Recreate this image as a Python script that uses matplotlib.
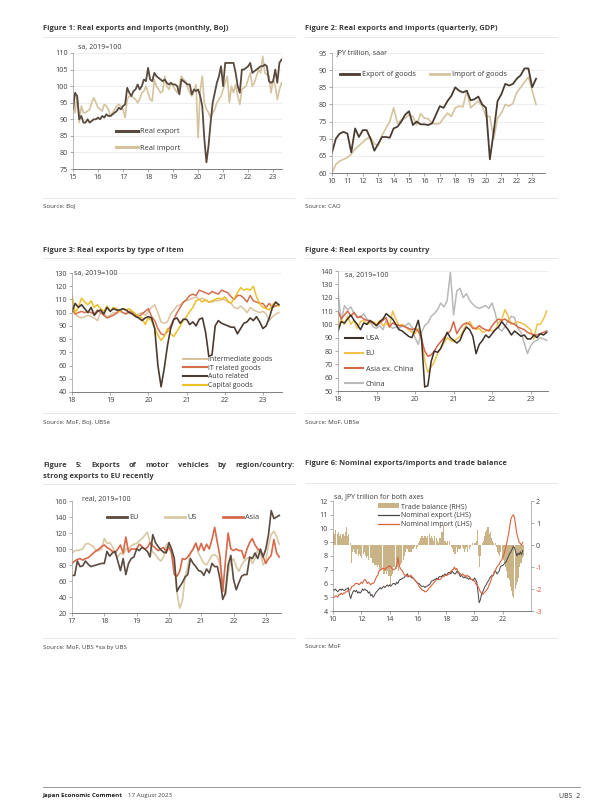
import numpy as np
import matplotlib
matplotlib.use("Agg")
import matplotlib.pyplot as plt
from matplotlib.lines import Line2D
from matplotlib.patches import Patch

plt.rcParams['font.family'] = ['Open Sans', 'DejaVu Sans']
plt.rcParams['axes.unicode_minus'] = False

# ---------------- data ----------------
# Figure 1: monthly, Jan 2015 - May 2023
f1_xticklabels = ['15', '16', '17', '18', '19', '20', '21', '22', '23']
f1_export = [93, 98, 97, 90, 91, 89, 89, 90, 89, 89.5, 90, 90,
             90.5, 90, 91, 90.5, 91.5, 91, 91, 91.5, 92, 92.5, 93.5, 93,
             94, 94.5, 99.5, 98, 97, 98.5, 99, 100.5, 99, 100, 102, 101.5,
             105.5, 102, 101.5, 104, 103, 102.5, 102, 101.5, 102, 101, 100.5, 101,
             100.5, 100.5, 100, 97.5, 102, 101.5, 101, 100.5, 100.5, 97.5, 99, 98.5,
             99, 97, 94, 84, 77, 82, 89, 95, 98, 101, 103, 106,
             100, 107, 107, 107, 107, 107, 104, 100, 98, 105, 105, 105.5,
             106, 107, 104, 104.5, 105, 105.5, 106, 106, 106.5, 106, 101.5, 101,
             101.5, 105, 101, 107, 108]
f1_import = [97, 92, 97, 89, 94, 92, 92, 92.5, 93, 95, 96.5, 95,
             93.5, 93, 92.5, 94.5, 94, 93, 91, 92, 93, 94, 94.5, 94,
             93, 90.5, 96, 97, 97, 96.5, 96, 95, 96, 98, 98.5, 100,
             98, 96, 95.5, 102, 100, 99, 98, 98.5, 103, 100, 99, 101,
             100, 99, 98, 100, 103, 102, 101.5, 99.5, 98, 97, 98.5, 100.5,
             84.5, 98.5, 103, 95, 93, 92, 90.5, 92, 93, 95, 96, 97,
             99, 101, 103, 95, 100, 98, 100.5, 97, 94.5, 99, 99.5, 100,
             102, 104, 100, 101, 103, 105, 104, 109, 104, 103.5, 103, 98,
             102, 100, 96, 99, 101]

# Figure 2: quarterly, 2010Q1 - 2023Q2
f2_xticklabels = ['10', '11', '12', '13', '14', '15', '16', '17', '18', '19', '20', '21', '22', '23']
f2_export = [66, 70, 71.5, 72, 71.5, 66, 73, 70.5, 72.5, 72.5, 70, 66.5,
             68.5, 70.5, 70.5, 70.3, 73, 73.5, 75, 77, 78, 74, 75, 74.2,
             74.2, 74, 74.5, 77, 79.5, 79, 81, 82.5, 85, 84, 83.5, 84,
             81.2, 81.5, 82.3, 80, 79, 64, 72, 81, 83, 86, 85.5, 86,
             87.5, 88.5, 90.5, 90.5, 85, 87.5]
f2_import = [60, 62.5, 63.5, 64, 64.5, 65.5, 67, 68, 69, 70, 70.5, 68.5,
             68, 71, 73, 75, 79, 74.5, 75.5, 76, 77, 76.5, 74, 77.3,
             76, 75.8, 74.5, 74.3, 74.5, 76, 77.5, 76.5, 79, 79.5, 79.3, 84,
             79, 80, 81, 79.5, 76.5, 76.5, 70, 76, 77.5, 80, 79.5, 80.3,
             83.5, 85, 86.5, 88, 84, 80]

# Figure 3: monthly, Jan 2018 - Jun 2023
f3_xticklabels = ['18', '19', '20', '21', '22', '23']
f3_intermediate = [103, 99, 97, 96, 97, 98, 97, 96, 94, 100, 99, 97,
                   98, 100, 99, 101, 100, 99, 101, 100, 98, 99, 100, 98,
                   101, 104, 106, 100, 93, 92, 93, 99, 102, 105, 106, 108,
                   109, 110, 111, 112, 110, 111, 109, 108, 108, 109, 109, 110,
                   110, 108, 107, 104, 103, 105, 103, 100, 104, 102, 101, 100,
                   101, 99, 94, 97, 99, 100]
f3_it = [102, 99, 100, 101, 100, 101, 100, 99, 102, 100, 98, 96,
         97, 98, 100, 102, 100, 99, 101, 100, 98, 97, 99, 101,
         103, 97, 94, 88, 84, 83, 86, 90, 95, 100, 104, 108,
         110, 113, 114, 113, 117, 116, 115, 114, 116, 115, 114, 117,
         116, 115, 112, 110, 113, 113, 111, 108, 113, 109, 108, 107,
         107, 104, 107, 104, 105, 106]
f3_auto = [101, 107, 104, 106, 103, 100, 104, 98, 101, 102, 99, 104,
           101, 103, 102, 102, 103, 102, 100, 99, 97, 96, 94, 96,
           97, 96, 88, 60, 44, 58, 75, 88, 95, 96, 92, 95,
           95, 91, 93, 90, 95, 96, 85, 67, 68, 90, 94, 92,
           91, 90, 89, 89, 84, 88, 92, 93, 96, 94, 97, 93,
           88, 90, 96, 104, 108, 106]
f3_capital = [113, 100, 104, 111, 108, 106, 109, 104, 106, 103, 101, 105,
              101, 104, 103, 101, 103, 102, 103, 101, 99, 97, 96, 91,
              96, 94, 88, 83, 79, 82, 88, 84, 82, 86, 90, 94,
              97, 101, 104, 109, 110, 108, 110, 108, 109, 110, 111, 110,
              112, 109, 107, 111, 115, 119, 117, 118, 117, 120, 112, 107,
              104, 103, 102, 106, 108, 105]

# Figure 4: monthly, Jan 2018 - Jun 2023
f4_xticklabels = ['18', '19', '20', '21', '22', '23']
f4_usa = [95, 102, 101, 104, 107, 103, 100, 96, 101, 100, 103, 101,
          99, 102, 104, 108, 106, 104, 100, 96, 95, 93, 91, 90,
          96, 103, 90, 53, 54, 72, 80, 79, 82, 88, 94, 90,
          88, 86, 88, 94, 98, 96, 91, 78, 85, 88, 92, 90,
          93, 96, 98, 102, 99, 96, 92, 95, 93, 91, 92, 89,
          89, 92, 90, 93, 92, 94]
f4_eu = [98, 104, 100, 106, 100, 103, 97, 102, 103, 100, 101, 102,
         100, 103, 99, 101, 98, 110, 104, 99, 100, 98, 96, 94,
         93, 97, 90, 73, 64, 68, 72, 78, 82, 86, 90, 88,
         87, 89, 91, 95, 100, 102, 98, 96, 97, 94, 95, 96,
         95, 96, 101, 104, 111, 106, 100, 101, 102, 101, 100, 98,
         96, 89, 100, 100, 104, 110]
f4_asia = [110, 104, 107, 110, 106, 109, 105, 106, 104, 103, 102, 101,
           99, 101, 103, 105, 98, 101, 100, 99, 99, 98, 97, 96,
           97, 95, 89, 80, 76, 77, 80, 84, 87, 90, 93, 95,
           102, 93, 97, 100, 101, 100, 97, 97, 99, 97, 96, 95,
           99, 102, 104, 103, 104, 102, 101, 100, 98, 97, 96, 94,
           93, 92, 92, 93, 94, 95]
f4_china = [125, 102, 114, 111, 113, 108, 106, 105, 108, 104, 102, 98,
            97, 99, 96, 103, 99, 97, 98, 97, 99, 99, 101, 98,
            90, 85, 94, 99, 101, 106, 108, 111, 116, 113, 118, 139,
            107, 125, 127, 120, 123, 118, 115, 113, 112, 113, 114, 112,
            116, 108, 97, 95, 98, 103, 106, 105, 97, 94, 86, 78,
            84, 87, 88, 90, 89, 88]

# Figure 5: monthly, Jan 2017 - Jun 2023
f5_xticklabels = ['17', '18', '19', '20', '21', '22', '23']
f5_eu = [67, 67, 85, 78, 79, 85, 81, 78, 79, 80, 81, 82,
         82, 97, 91, 95, 97, 85, 73, 88, 68, 82, 88, 90,
         100, 98, 102, 100, 97, 90, 118, 108, 103, 99, 96, 95,
         108, 100, 88, 47, 53, 58, 65, 68, 88, 82, 78, 73,
         72, 67, 75, 70, 82, 78, 78, 62, 37, 45, 80, 92,
         62, 49, 58, 66, 68, 68, 90, 88, 95, 88, 100, 90,
         100, 118, 148, 138, 140, 142]
f5_us = [95, 98, 98, 99, 100, 106, 107, 105, 103, 97, 98, 100,
         113, 107, 108, 103, 95, 90, 95, 93, 100, 100, 104, 106,
         107, 110, 113, 117, 121, 108, 96, 93, 88, 85, 90, 105,
         108, 92, 80, 45, 26, 35, 65, 78, 95, 100, 108, 95,
         88, 82, 80, 86, 92, 93, 90, 80, 55, 42, 70, 85,
         88, 78, 72, 80, 85, 88, 90, 82, 88, 100, 95, 80,
         85, 105, 118, 122, 116, 106]
f5_asia = [82, 85, 87, 88, 86, 88, 89, 92, 95, 98, 100, 103,
           105, 102, 100, 97, 95, 100, 105, 95, 115, 96, 100, 100,
           100, 106, 103, 100, 102, 108, 104, 101, 98, 100, 102, 97,
           102, 95, 68, 66, 72, 88, 87, 90, 95, 100, 107, 98,
           107, 98, 106, 100, 112, 127, 108, 90, 47, 85, 120, 100,
           98, 100, 98, 98, 88, 100, 108, 113, 105, 100, 98, 90,
           82, 88, 92, 112, 95, 90]

# Figure 6: monthly, Jan 2010 - Jun 2023
f6_xticklabels = ['10', '12', '14', '16', '18', '20', '22']
f6_balance = [0.6, 0.5, 0.7, 0.5, 0.6, 0.4, 0.5, 0.3, 0.5, 0.4, 0.6, 0.8,
              0.4, 0.5, 0.1, -0.8, -0.3, -0.2, -0.3, -0.4, -0.2, -0.5, -0.4, -0.5,
              -0.6, -0.4, -0.3, -0.5, -0.6, -0.5, -0.7, -0.6, -0.6, -0.8, -0.8, -0.9,
              -0.9, -1.0, -0.9, -1.1, -1.2, -1.1, -1.3, -1.3, -1.2, -1.3, -1.2, -1.4,
              -1.8, -1.4, -1.3, -1.0, -1.0, -1.1, -1.0, -1.2, -1.0, -0.9, -0.8, -0.7,
              -0.5, -0.3, -0.2, -0.2, -0.3, -0.3, -0.3, -0.2, -0.2, -0.1, -0.2, -0.1,
              0.1, 0.2, 0.3, 0.4, 0.3, 0.4, 0.4, 0.3, 0.4, 0.5, 0.3, 0.4,
              0.3, 0.2, 0.4, 0.3, 0.2, 0.1, 0.3, 0.3, 0.6, 0.9, 0.2, 0.2,
              0.1, 0.2, 0.2, 0.0, -0.1, -0.2, -0.3, -0.4, -0.1, -0.3, -0.2, -0.2,
              -0.2, -0.1, -0.2, -0.3, -0.2, -0.1, -0.3, -0.2, -0.1, 0.0, 0.1, 0.0,
              0.1, 0.2, 0.7, -0.5, -1.0, -0.5, 0.1, 0.2, 0.4, 0.6, 0.7, 0.8,
              0.5, 0.6, 0.3, 0.2, 0.1, 0.1, -0.1, -0.3, -0.4, -0.5, -0.3, -0.6,
              -0.7, -0.8, -1.0, -1.2, -1.5, -1.6, -1.9, -2.1, -2.3, -2.4, -2.0, -1.8,
              -1.7, -1.5, -1.0, -0.8, -0.6, -0.5]
f6_export = [5.6, 5.5, 5.6, 5.5, 5.4, 5.5, 5.6, 5.5, 5.6, 5.5, 5.5, 5.6,
             5.6, 5.7, 5.2, 4.9, 5.2, 5.4, 5.5, 5.4, 5.5, 5.3, 5.4, 5.3,
             5.4, 5.6, 5.5, 5.6, 5.5, 5.5, 5.3, 5.4, 5.1, 5.2, 5.0, 5.1,
             5.3, 5.4, 5.5, 5.6, 5.7, 5.6, 5.7, 5.8, 5.7, 5.8, 5.9, 5.8,
             5.9, 5.8, 5.9, 6.0, 6.0, 5.9, 6.1, 6.0, 6.2, 6.3, 6.3, 6.4,
             6.4, 6.5, 6.6, 6.7, 6.5, 6.5, 6.5, 6.4, 6.4, 6.3, 6.2, 6.1,
             6.0, 6.0, 5.9, 5.8, 5.8, 5.8, 5.7, 5.8, 5.8, 5.9, 5.9, 6.1,
             6.2, 6.2, 6.3, 6.3, 6.4, 6.3, 6.5, 6.5, 6.5, 6.6, 6.6, 6.7,
             6.6, 6.7, 6.8, 6.8, 6.7, 6.9, 6.8, 6.7, 6.7, 6.9, 6.8, 6.7,
             6.5, 6.6, 6.5, 6.4, 6.5, 6.4, 6.4, 6.3, 6.4, 6.3, 6.3, 6.2,
             6.4, 6.3, 6.1, 5.4, 4.6, 4.8, 5.2, 5.4, 5.6, 5.8, 5.9, 6.1,
             6.2, 6.4, 6.5, 6.6, 6.6, 6.9, 6.9, 6.7, 6.8, 6.9, 7.2, 7.3,
             7.3, 7.4, 7.5, 7.6, 7.8, 8.0, 8.2, 8.3, 8.5, 8.7, 8.6, 8.3,
             8.0, 8.2, 8.1, 8.3, 8.1, 8.4]
f6_import = [5.0, 5.0, 5.1, 5.1, 5.0, 5.2, 5.2, 5.3, 5.2, 5.3, 5.3, 5.4,
             5.4, 5.5, 5.5, 5.6, 5.8, 5.8, 5.9, 6.0, 6.0, 6.0, 5.9, 6.0,
             6.1, 6.0, 6.2, 6.3, 6.2, 6.0, 6.1, 6.0, 5.9, 6.0, 6.0, 6.1,
             6.3, 6.5, 6.6, 6.9, 7.0, 7.0, 7.1, 7.1, 7.0, 7.1, 7.2, 7.2,
             7.3, 7.2, 7.1, 7.0, 7.0, 7.1, 7.3, 7.9, 7.4, 7.1, 7.0, 6.9,
             6.7, 6.6, 6.6, 6.5, 6.6, 6.5, 6.6, 6.5, 6.4, 6.3, 6.2, 6.1,
             6.0, 5.8, 5.7, 5.6, 5.5, 5.5, 5.4, 5.4, 5.5, 5.6, 5.7, 5.8,
             5.9, 6.0, 6.1, 6.2, 6.3, 6.3, 6.3, 6.3, 6.4, 6.5, 6.5, 6.6,
             6.6, 6.6, 6.7, 6.7, 6.9, 7.0, 7.0, 7.2, 7.0, 7.1, 6.9, 6.8,
             6.7, 6.6, 6.7, 6.6, 6.6, 6.5, 6.6, 6.5, 6.5, 6.3, 6.3, 6.2,
             6.2, 6.0, 5.9, 5.8, 5.6, 5.4, 5.3, 5.2, 5.3, 5.4, 5.5, 5.6,
             5.8, 6.0, 6.2, 6.5, 6.6, 6.8, 7.0, 7.2, 7.3, 7.4, 7.6, 7.7,
             7.9, 8.1, 8.4, 8.8, 9.2, 9.6, 10.2, 10.7, 10.9, 11.0, 10.8, 10.2,
             9.6, 9.3, 9.0, 8.9, 8.8, 9.0]

# ---------------- layout helpers ----------------
W, H = 600, 800
fig = plt.figure(figsize=(6, 8), dpi=100)
renderer = fig.canvas.get_renderer()

TXT = '#3a3a3a'
TICK = '#404040'


def rect(l, t, r, b):
    return [l / W, 1 - b / H, (r - l) / W, (b - t) / H]


def ftext(x, y, s, **kw):
    kw.setdefault('va', 'center')
    kw.setdefault('color', TXT)
    return fig.text(x / W, 1 - y / H, s, **kw)


def justified(x0, x1, y, s, **kw):
    words = s.split(' ')
    objs = [ftext(x0, y, w, **kw) for w in words]
    widths = [o.get_window_extent(renderer).width for o in objs]
    gap = (x1 - x0 - sum(widths)) / (len(words) - 1)
    x = x0
    for o, w in zip(objs, widths):
        o.set_x(x / W)
        x += w + gap


def hline(x0, x1, y, color='#e4e4e4', lw=0.6):
    fig.add_artist(Line2D([x0 / W, x1 / W], [1 - y / H, 1 - y / H],
                          color=color, lw=lw, transform=fig.transFigure))


def style(ax, grid=False):
    for s in ['top', 'right']:
        ax.spines[s].set_visible(False)
    ax.spines['left'].set_color('#9a9a9a')
    ax.spines['left'].set_linewidth(0.5)
    ax.spines['bottom'].set_color('#6a6a6a')
    ax.spines['bottom'].set_linewidth(0.6)
    ax.tick_params(labelsize=5.2, labelcolor=TICK, color='#8a8a8a',
                   length=2, width=0.5, pad=1.5)
    if grid:
        ax.grid(axis='y', color='#e8e8e8', lw=0.5)
        ax.set_axisbelow(True)


def legend(ax, handles, labels, x, y, fs=5.3, ncol=1, hl=2.5, hts=0.4,
           ls=0.5, cs=1.5):
    leg = ax.legend(handles, labels, loc='upper left',
                    bbox_to_anchor=(x / W, 1 - y / H),
                    bbox_transform=fig.transFigure, frameon=False,
                    fontsize=fs, ncol=ncol, handlelength=hl,
                    handletextpad=hts, labelspacing=ls, columnspacing=cs,
                    borderpad=0, borderaxespad=0)
    for t in leg.get_texts():
        t.set_color(TXT)
    return leg


def monthly(start, n):
    return start + np.arange(n) / 12.0


TFS = 5.4   # title font size
SFS = 4.4   # source font size

# ---------------- Figure 1 ----------------
ftext(43, 28, 'Figure 1: Real exports and imports (monthly, BoJ)', fontsize=TFS, weight='bold')
hline(43, 295, 37)
ax1 = fig.add_axes(rect(73, 53, 282, 169))
style(ax1, grid=True)
x1 = monthly(2015, len(f1_export))
c_dark1, c_tan1 = '#5a4a3e', '#d5c39e'
ax1.plot(x1, f1_import, color=c_tan1, lw=1.2)
ax1.plot(x1, f1_export, color=c_dark1, lw=1.3)
ax1.set_xlim(2015, x1[-1] + 0.02)
ax1.set_ylim(75, 110)
ax1.set_yticks(np.arange(75, 111, 5))
ax1.set_xticks(np.arange(2015, 2024))
ax1.set_xticklabels(f1_xticklabels)
ftext(78, 47, 'sa, 2019=100', fontsize=5.0)
legend(ax1, [Line2D([], [], color=c_dark1, lw=2.2), Line2D([], [], color=c_tan1, lw=2.2)],
       ['Real export', 'Real import'], 116, 128, fs=5.4, hl=2.9, hts=0.3, ls=1.2)
hline(43, 295, 198)
ftext(43, 206, 'Source: BoJ', fontsize=SFS)

# ---------------- Figure 2 ----------------
ftext(305, 28, 'Figure 2: Real exports and imports (quarterly, GDP)', fontsize=TFS, weight='bold')
hline(305, 557, 37)
ax2 = fig.add_axes(rect(332, 53, 545, 173))
style(ax2, grid=True)
x2 = 2010 + np.arange(len(f2_export)) / 4.0
c_dark2, c_tan2 = '#4a3c32', '#d5c39e'
ax2.plot(x2, f2_import, color=c_tan2, lw=1.2)
ax2.plot(x2, f2_export, color=c_dark2, lw=1.3)
ax2.set_xlim(2010, 2023.83)
ax2.set_ylim(60, 95)
ax2.set_yticks(np.arange(60, 96, 5))
ax2.set_xticks(np.arange(2010, 2024))
ax2.set_xticklabels(f2_xticklabels)
ftext(337, 53, 'JPY trillion, saar', fontsize=5.0)
legend(ax2, [Line2D([], [], color=c_dark2, lw=2.0), Line2D([], [], color=c_tan2, lw=2.0)],
       ['Export of goods', 'Import of goods'], 340, 71, fs=5.3, ncol=2, hl=2.6,
       hts=0.35, cs=2.0)
hline(305, 557, 198)
ftext(305, 206, 'Source: CAO', fontsize=SFS)

# ---------------- Figure 3 ----------------
ftext(43, 250, 'Figure 3: Real exports by type of item', fontsize=TFS, weight='bold')
hline(43, 295, 258)
ax3 = fig.add_axes(rect(72, 273, 282, 392))
style(ax3)
ax3.axhline(130, color='#e8e8e8', lw=0.5, zorder=0)
x3 = monthly(2018, len(f3_auto))
c_int, c_it, c_auto, c_cap = '#dcc3a0', '#d46f4e', '#4b3b30', '#efbf2a'
ax3.plot(x3, f3_intermediate, color=c_int, lw=1.1)
ax3.plot(x3, f3_it, color=c_it, lw=1.1)
ax3.plot(x3, f3_capital, color=c_cap, lw=1.1)
ax3.plot(x3, f3_auto, color=c_auto, lw=1.2)
ax3.set_xlim(2018, 2023.5)
ax3.set_ylim(40, 130)
ax3.set_yticks(np.arange(40, 131, 10))
ax3.set_xticks(np.arange(2018, 2024))
ax3.set_xticklabels(f3_xticklabels)
ftext(74, 274, 'sa, 2019=100', fontsize=5.0)
legend(ax3, [Line2D([], [], color=c, lw=1.5) for c in (c_int, c_it, c_auto, c_cap)],
       ['Intermediate goods', 'IT related goods', 'Auto related', 'Capital goods'],
       183, 356, fs=5.0, hl=3.5, hts=0.15, ls=0.25)
hline(43, 295, 413)
ftext(43, 422, 'Source: MoF, BoJ, UBSe', fontsize=SFS)

# ---------------- Figure 4 ----------------
ftext(305, 250, 'Figure 4: Real exports by country', fontsize=TFS, weight='bold')
hline(305, 557, 258)
ax4 = fig.add_axes(rect(338, 271, 548, 391))
style(ax4)
ax4.axhline(140, color='#e8e8e8', lw=0.5, zorder=0)
x4 = monthly(2018, len(f4_usa))
c_usa, c_eu4, c_asia4, c_china = '#3b302a', '#f2c14a', '#d4694a', '#b9b9b9'
ax4.plot(x4, f4_china, color=c_china, lw=1.1)
ax4.plot(x4, f4_eu, color=c_eu4, lw=1.1)
ax4.plot(x4, f4_asia, color=c_asia4, lw=1.1)
ax4.plot(x4, f4_usa, color=c_usa, lw=1.1)
ax4.set_xlim(2018, 2023.45)
ax4.set_ylim(50, 140)
ax4.set_yticks(np.arange(50, 141, 10))
ax4.set_xticks(np.arange(2018, 2024))
ax4.set_xticklabels(f4_xticklabels)
ftext(345, 275, 'sa, 2019=100', fontsize=5.0)
legend(ax4, [Line2D([], [], color=c, lw=1.5) for c in (c_usa, c_eu4, c_asia4, c_china)],
       ['USA', 'EU', 'Asia ex. China', 'China'], 345, 335, fs=5.3, hl=2.4,
       hts=0.4, ls=1.1)
hline(305, 557, 413)
ftext(305, 422, 'Source: MoF, UBSe', fontsize=SFS)

# ---------------- Figure 5 ----------------
justified(43, 295, 465, 'Figure 5: Exports of motor vehicles by region/country:',
          fontsize=TFS, weight='bold')
ftext(43, 476, 'strong exports to EU recently', fontsize=TFS, weight='bold')
hline(43, 295, 484)
ax5 = fig.add_axes(rect(72, 501, 281, 613))
style(ax5)
x5 = monthly(2017, len(f5_eu))
c_eu5, c_us5, c_asia5 = '#5b4a40', '#d9c9a3', '#d8684a'
ax5.plot(x5, f5_us, color=c_us5, lw=1.2)
ax5.plot(x5, f5_asia, color=c_asia5, lw=1.2)
ax5.plot(x5, f5_eu, color=c_eu5, lw=1.2)
ax5.set_xlim(2017, 2023.47)
ax5.set_ylim(20, 160)
ax5.set_yticks(np.arange(20, 161, 20))
ax5.set_xticks(np.arange(2017, 2024))
ax5.set_xticklabels(f5_xticklabels)
ftext(82, 499, 'real, 2019=100', fontsize=5.0)
legend(ax5, [Line2D([], [], color=c, lw=2.0) for c in (c_eu5, c_us5, c_asia5)],
       ['EU', 'US', 'Asia'], 107, 514, fs=5.3, ncol=3, hl=2.7, hts=0.3, cs=3.6)
hline(43, 295, 638)
ftext(43, 647, 'Source: MoF, UBS *sa by UBS', fontsize=SFS)

# ---------------- Figure 6 ----------------
ftext(305, 464, 'Figure 6: Nominal exports/imports and trade balance', fontsize=TFS, weight='bold')
hline(305, 557, 483)
ax6 = fig.add_axes(rect(333, 501, 531, 611))
ax6r = ax6.twinx()
x6 = monthly(2010, len(f6_export))
c_bar, c_exp6, c_imp6 = '#c9b387', '#4a4444', '#d8643f'
ax6r.bar(x6 + 1 / 24, f6_balance, width=1 / 12 * 0.92, color=c_bar, linewidth=0)
ax6.plot(x6, f6_export, color=c_exp6, lw=0.7)
ax6.plot(x6, f6_import, color=c_imp6, lw=0.8)
ax6.set_zorder(ax6r.get_zorder() + 1)
ax6.patch.set_visible(False)
style(ax6)
ax6r.spines['top'].set_visible(False)
ax6r.spines['left'].set_visible(False)
ax6r.spines['bottom'].set_visible(False)
ax6r.spines['right'].set_color('#9a9a9a')
ax6r.spines['right'].set_linewidth(0.5)
ax6r.tick_params(labelsize=5.2, labelcolor=TICK, color='#8a8a8a', length=2,
                 width=0.5, pad=1.5)
ax6.set_xlim(2010, 2024.0)
ax6.set_ylim(4, 12)
ax6.set_yticks(np.arange(4, 13, 1))
ax6.set_xticks(np.arange(2010, 2023, 2))
ax6.set_xticklabels(f6_xticklabels)
ax6r.set_ylim(-3, 2)
ax6r.set_yticks(np.arange(-3, 3, 1))
ax6r.set_yticklabels([str(v) for v in range(-3, 3)])
for lab, v in zip(ax6r.get_yticklabels(), range(-3, 3)):
    lab.set_color('#e0573c' if v < 0 else TICK)
ftext(334, 497, 'sa, JPY trillion for both axes', fontsize=5.0)
legend(ax6, [Patch(facecolor=c_bar, edgecolor='none'),
             Line2D([], [], color=c_exp6, lw=0.9),
             Line2D([], [], color=c_imp6, lw=0.9)],
       ['Trade balance (RHS)', 'Nominal export (LHS)', 'Nominal import (LHS)'],
       378, 503, fs=5.0, hl=3.0, hts=0.35, ls=0.3)
hline(305, 557, 638)
ftext(305, 647, 'Source: MoF', fontsize=SFS)

# ---------------- footer ----------------
hline(43, 580, 787, color='#9a9a9a', lw=0.7)
t_foot = ftext(43, 796, 'Japan Economic Comment', fontsize=4.4, weight='bold', color='#222222')
foot_end = 43 + t_foot.get_window_extent(renderer).width
ftext(foot_end + 5, 796, '17 August 2023', fontsize=4.4, color='#444444')
ftext(580, 796, 'UBS  2', fontsize=5.0, ha='right', color='#333333')

fig.savefig('out.png', dpi=100)
